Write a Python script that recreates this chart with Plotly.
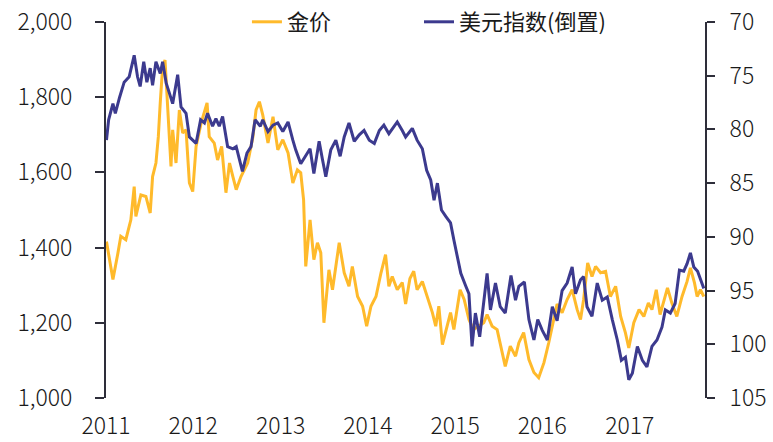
import plotly.graph_objects as go

gold_dates = [
    "2011-01-03", "2011-01-30", "2011-02-20", "2011-03-04", "2011-03-25", "2011-04-15", "2011-04-29", "2011-05-06",
    "2011-05-27", "2011-06-17", "2011-07-05", "2011-07-15", "2011-07-29", "2011-08-08", "2011-08-16", "2011-08-26",
    "2011-09-05", "2011-09-16", "2011-09-30", "2011-10-07", "2011-10-21", "2011-11-04", "2011-11-18", "2011-12-02",
    "2011-12-16", "2011-12-30", "2012-01-13", "2012-02-03", "2012-02-28", "2012-03-08", "2012-03-29", "2012-04-12",
    "2012-04-29", "2012-05-17", "2012-06-01", "2012-06-15", "2012-06-29", "2012-07-19", "2012-08-16", "2012-09-07",
    "2012-09-20", "2012-10-04", "2012-10-18", "2012-11-09", "2012-11-30", "2012-12-20", "2013-01-10", "2013-02-01",
    "2013-02-21", "2013-03-12", "2013-03-26", "2013-04-07", "2013-04-16", "2013-05-04", "2013-05-20", "2013-06-04",
    "2013-06-18", "2013-07-01", "2013-07-22", "2013-08-06", "2013-09-03", "2013-09-24", "2013-10-14", "2013-10-28",
    "2013-11-19", "2013-12-10", "2013-12-27", "2014-01-14", "2014-02-04", "2014-02-25", "2014-03-16", "2014-03-30",
    "2014-04-13", "2014-05-04", "2014-05-25", "2014-06-08", "2014-06-26", "2014-07-12", "2014-07-26", "2014-08-17",
    "2014-09-07", "2014-09-28", "2014-10-12", "2014-10-25", "2014-11-09", "2014-11-30", "2014-12-13", "2014-12-27",
    "2015-01-22", "2015-02-08", "2015-02-28", "2015-03-19", "2015-04-10", "2015-05-01", "2015-05-15", "2015-06-05",
    "2015-06-26", "2015-07-16", "2015-07-30", "2015-08-20", "2015-09-11", "2015-09-25", "2015-10-15", "2015-11-06",
    "2015-11-27", "2015-12-17", "2016-01-08", "2016-01-28", "2016-02-19", "2016-03-03", "2016-03-24", "2016-04-14",
    "2016-05-05", "2016-05-26", "2016-06-09", "2016-06-22", "2016-07-09", "2016-07-27", "2016-08-11", "2016-09-01",
    "2016-09-22", "2016-10-12", "2016-11-03", "2016-11-24", "2016-12-14", "2016-12-28", "2017-01-18", "2017-02-09",
    "2017-03-01", "2017-03-20", "2017-04-04", "2017-04-22", "2017-05-08", "2017-05-22", "2017-06-08", "2017-06-26",
    "2017-07-17", "2017-08-08", "2017-08-29", "2017-09-12", "2017-09-29", "2017-10-10", "2017-10-24", "2017-11-07",
]
gold_price = [
    1416, 1315, 1386, 1430, 1421, 1474, 1562, 1483,
    1540, 1536, 1492, 1589, 1625, 1695, 1785, 1881,
    1899, 1785, 1616, 1713, 1625, 1766, 1705, 1713,
    1572, 1549, 1669, 1731, 1785, 1695, 1678, 1633,
    1669, 1546, 1625, 1589, 1554, 1589, 1625, 1695,
    1766, 1788, 1753, 1678, 1748, 1660, 1687, 1652,
    1572, 1607, 1599, 1527, 1350, 1474, 1368, 1413,
    1386, 1200, 1341, 1288, 1413, 1333, 1297, 1350,
    1270, 1244, 1191, 1244, 1270, 1333, 1381, 1297,
    1323, 1288, 1307, 1250, 1318, 1337, 1288, 1310,
    1270, 1227, 1191, 1244, 1142, 1191, 1227, 1182,
    1288, 1262, 1209, 1182, 1191, 1200, 1222, 1191,
    1182, 1129, 1084, 1138, 1111, 1147, 1174, 1102,
    1068, 1054, 1094, 1147, 1210, 1250, 1227, 1262,
    1288, 1235, 1209, 1262, 1359, 1323, 1350, 1333,
    1337, 1270, 1297, 1217, 1173, 1133, 1200, 1235,
    1217, 1253, 1235, 1288, 1222, 1253, 1293, 1253,
    1217, 1270, 1310, 1346, 1306, 1270, 1288, 1270,
]

usd_dates = [
    "2011-01-03", "2011-01-12", "2011-01-30", "2011-02-09", "2011-02-27", "2011-03-18", "2011-04-08", "2011-04-29",
    "2011-05-13", "2011-05-24", "2011-06-08", "2011-06-21", "2011-07-05", "2011-07-15", "2011-07-29", "2011-08-16",
    "2011-08-26", "2011-09-10", "2011-09-23", "2011-10-07", "2011-10-28", "2011-11-11", "2011-12-02", "2011-12-16",
    "2012-01-13", "2012-02-01", "2012-02-17", "2012-03-01", "2012-03-22", "2012-04-05", "2012-04-19", "2012-05-03",
    "2012-05-24", "2012-06-15", "2012-06-29", "2012-07-11", "2012-07-25", "2012-08-13", "2012-08-30", "2012-09-16",
    "2012-10-08", "2012-10-18", "2012-11-09", "2012-11-30", "2012-12-20", "2013-01-10", "2013-02-01", "2013-02-21",
    "2013-03-05", "2013-03-26", "2013-04-16", "2013-05-04", "2013-05-20", "2013-06-11", "2013-06-25", "2013-07-09",
    "2013-07-30", "2013-08-20", "2013-09-07", "2013-09-24", "2013-10-14", "2013-11-05", "2013-11-26", "2013-12-16",
    "2014-01-07", "2014-01-28", "2014-02-18", "2014-03-09", "2014-03-30", "2014-05-04", "2014-05-25", "2014-06-08",
    "2014-07-06", "2014-07-26", "2014-08-17", "2014-09-04", "2014-09-21", "2014-10-05", "2014-10-19", "2014-11-05",
    "2014-11-23", "2014-12-13", "2014-12-27", "2015-01-11", "2015-01-25", "2015-02-15", "2015-02-28", "2015-03-13",
    "2015-03-27", "2015-04-14", "2015-05-01", "2015-05-15", "2015-05-29", "2015-06-19", "2015-07-09", "2015-07-30",
    "2015-08-23", "2015-09-11", "2015-09-25", "2015-10-18", "2015-11-06", "2015-11-27", "2015-12-13", "2016-01-01",
    "2016-01-22", "2016-02-12", "2016-03-03", "2016-03-24", "2016-04-14", "2016-05-05", "2016-05-19", "2016-06-09",
    "2016-06-22", "2016-07-06", "2016-07-27", "2016-08-18", "2016-09-08", "2016-09-29", "2016-10-20", "2016-11-10",
    "2016-11-27", "2016-12-14", "2016-12-28", "2017-01-12", "2017-02-02", "2017-02-23", "2017-03-14", "2017-04-04",
    "2017-04-25", "2017-05-16", "2017-05-30", "2017-06-20", "2017-07-10", "2017-07-28", "2017-08-15", "2017-08-29",
    "2017-09-12", "2017-09-26", "2017-10-12", "2017-10-26", "2017-11-07",
]
usd_index = [
    81.0, 79.1, 77.6, 78.5, 77.0, 75.6, 75.1, 73.1,
    75.1, 76.0, 73.7, 75.6, 74.3, 75.9, 73.7, 74.8,
    73.7, 75.7, 76.6, 77.6, 74.9, 77.9, 78.5, 80.7,
    81.3, 79.1, 79.4, 78.5, 79.7, 79.0, 79.7, 78.8,
    81.6, 81.8, 81.6, 82.8, 83.9, 82.2, 81.6, 79.1,
    79.7, 79.1, 80.2, 79.6, 79.4, 80.2, 79.3, 81.0,
    81.9, 83.2, 82.5, 81.8, 84.1, 81.1, 82.8, 84.4,
    81.9, 81.0, 82.5, 80.7, 79.4, 81.1, 80.5, 80.1,
    81.0, 81.3, 80.1, 79.6, 80.4, 79.3, 80.1, 80.7,
    79.9, 81.0, 81.8, 83.8, 84.7, 86.6, 85.0, 87.5,
    88.1, 88.7, 90.3, 91.9, 93.4, 94.6, 95.3, 100.2,
    97.1, 99.3, 95.9, 93.4, 96.8, 94.3, 96.5, 97.1,
    93.6, 95.9, 94.6, 94.2, 97.7, 99.6, 97.7, 98.7,
    99.6, 96.5, 97.8, 95.0, 94.3, 92.8, 95.3, 94.0,
    93.7, 96.5, 97.4, 94.3, 95.9, 95.6, 97.7, 99.6,
    101.5, 101.2, 103.3, 102.7, 100.2, 101.5, 102.1, 100.2,
    99.6, 98.4, 96.8, 97.1, 96.2, 93.1, 93.2, 92.5,
    91.5, 92.8, 93.2, 94.0, 94.8,
]

year_ticks = ["2011-01-01", "2012-01-01", "2013-01-01", "2014-01-01", "2015-01-01", "2016-01-01", "2017-01-01"]
year_labels = ["2011", "2012", "2013", "2014", "2015", "2016", "2017"]

FONT = "Noto Sans CJK SC"
GOLD = "#FFBA2B"
NAVY = "#3C3A8E"
AXIS = "#2E2E3A"
TXT = "#1a1a1a"
TICKFONT = dict(family=FONT, size=23, color=TXT, weight=300)
LEGFONT = dict(family=FONT, size=22, color=TXT)

fig = go.Figure()
fig.add_trace(go.Scatter(x=gold_dates, y=gold_price, name="金价", mode="lines",
                         line=dict(color=GOLD, width=3), yaxis="y", legend="legend"))
fig.add_trace(go.Scatter(x=usd_dates, y=usd_index, name="美元指数(倒置)", mode="lines",
                         line=dict(color=NAVY, width=3), yaxis="y2", legend="legend2"))

fig.update_layout(
    width=773, height=442,
    margin=dict(l=106, r=68, t=22, b=43.5, autoexpand=False),
    paper_bgcolor="white", plot_bgcolor="white",
    font=dict(family=FONT, size=22, color=TXT),
    showlegend=True,
    legend=dict(orientation="h", x=0.2353, xanchor="left", y=1.0, yanchor="middle",
                font=LEGFONT, bgcolor="rgba(0,0,0,0)"),
    legend2=dict(orientation="h", x=0.5225, xanchor="left", y=1.0, yanchor="middle",
                 font=LEGFONT, bgcolor="rgba(0,0,0,0)"),
    xaxis=dict(range=["2011-01-01", "2017-11-12"], tickvals=year_ticks, ticktext=year_labels,
               showgrid=False, zeroline=False, showline=False, ticks="", automargin=False,
               ticklabelstandoff=12, tickfont=TICKFONT),
    yaxis=dict(range=[1000, 2000], dtick=200, tickformat=",", showgrid=False, zeroline=False,
               showline=True, linecolor=AXIS, linewidth=2, ticks="outside", ticklen=9, automargin=False,
               tickcolor=AXIS, tickwidth=2, ticklabelstandoff=18, tickfont=TICKFONT),
    yaxis2=dict(range=[105, 70], dtick=5, overlaying="y", side="right", showgrid=False, automargin=False,
                zeroline=False, showline=True, linecolor=AXIS, linewidth=2, ticks="outside",
                ticklen=8, tickcolor=AXIS, tickwidth=2, ticklabelstandoff=10, tickfont=TICKFONT),
)

fig.write_html("out.html", config={"displayModeBar": False},
               post_script="document.body.style.margin='0';")
